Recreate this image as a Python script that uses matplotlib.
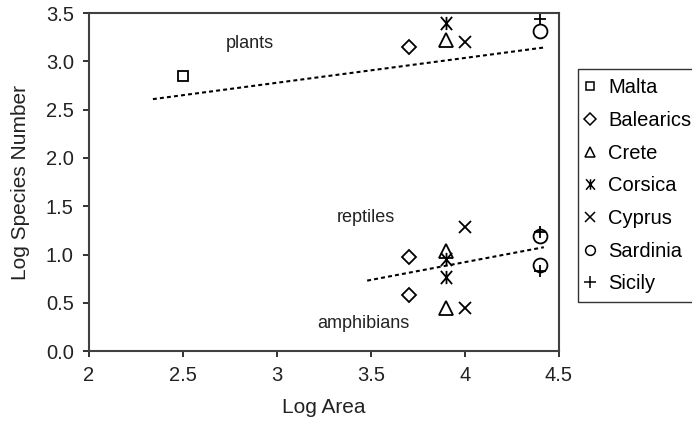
import numpy as np
import matplotlib
matplotlib.use('Agg')
import matplotlib.pyplot as plt
from matplotlib.path import Path

plt.rcParams['font.family'] = ['Liberation Sans', 'DejaVu Sans']

# island data
islands = ['Malta', 'Balearics', 'Crete', 'Corsica', 'Cyprus', 'Sardinia', 'Sicily']
log_area = [2.5, 3.7, 3.9, 3.9, 4.0, 4.4, 4.4]
plants = [2.85, 3.15, 3.22, 3.40, 3.20, 3.32, 3.44]
reptiles = [np.nan, 0.97, 1.04, 0.95, 1.28, 1.19, 1.23]
amphibians = [np.nan, 0.58, 0.45, 0.77, 0.45, 0.89, 0.83]

# trend lines: slope, intercept, x start, x end
plants_fit = (0.257, 2.008, 2.34, 4.43)
herps_fit = (0.368, -0.551, 3.48, 4.42)

# asterisk marker: vertical bar plus an X
star = Path([(0, -1), (0, 1), (-0.85, -1), (0.85, 1), (-0.85, 1), (0.85, -1)],
            [Path.MOVETO, Path.LINETO, Path.MOVETO, Path.LINETO, Path.MOVETO, Path.LINETO])

markers = ['s', 'D', '^', star, 'x', 'o', '+']
sizes = [6.5, 7.5, 10, 9.5, 9, 10, 9]
leg_sizes = [6, 6, 7.5, 7.5, 7, 7, 8]

fig = plt.figure(figsize=(6.92, 4.24), dpi=100)
ax = fig.add_axes([0.1286, 0.172, 0.679, 0.797])

for i, name in enumerate(islands):
    ys = [plants[i], reptiles[i], amphibians[i]]
    ax.plot([log_area[i]] * 3, ys, linestyle='none', marker=markers[i],
            markersize=sizes[i], markerfacecolor='none', markeredgecolor='black',
            markeredgewidth=1.3, label=name)

for slope, icpt, x0, x1 in [plants_fit, herps_fit]:
    xs = np.array([x0, x1])
    ax.plot(xs, slope * xs + icpt, color='black', linestyle=(0, (1.9, 1.5)), linewidth=1.5)

ax.text(2.855, 3.19, 'plants', ha='center', va='center', fontsize=13, color='#222222')
ax.text(3.475, 1.38, 'reptiles', ha='center', va='center', fontsize=13, color='#222222')
ax.text(3.46, 0.29, 'amphibians', ha='center', va='center', fontsize=13, color='#222222')

ax.set_xlim(2, 4.5)
ax.set_ylim(0, 3.5)
ax.set_xticks([2, 2.5, 3, 3.5, 4, 4.5])
ax.set_xticklabels(['2', '2.5', '3', '3.5', '4', '4.5'])
ax.set_yticks(np.arange(0, 3.51, 0.5))
ax.set_yticklabels(['%.1f' % v for v in np.arange(0, 3.51, 0.5)])
ax.tick_params(direction='out', length=4, width=1.3, pad=7, labelsize=14.5, colors='#222222')
for sp in ax.spines.values():
    sp.set_color('#404040')
    sp.set_linewidth(1.5)

ax.set_xlabel('Log Area', fontsize=15, color='#222222', labelpad=9)
ax.set_ylabel('Log Species Number', fontsize=15, color='#222222', labelpad=11)

leg = fig.legend(loc='upper left', bbox_to_anchor=(0.835, 0.837), frameon=True,
                 fancybox=False, edgecolor='black', fontsize=14.5, handlelength=0.3,
                 handletextpad=0.75, labelspacing=0.68, borderpad=0.45, borderaxespad=0)
leg.get_frame().set_linewidth(1.0)
for h, s in zip(leg.legend_handles, leg_sizes):
    h.set_markersize(s)
    h.set_markeredgewidth(1.1)

fig.savefig('out.png', dpi=100)
